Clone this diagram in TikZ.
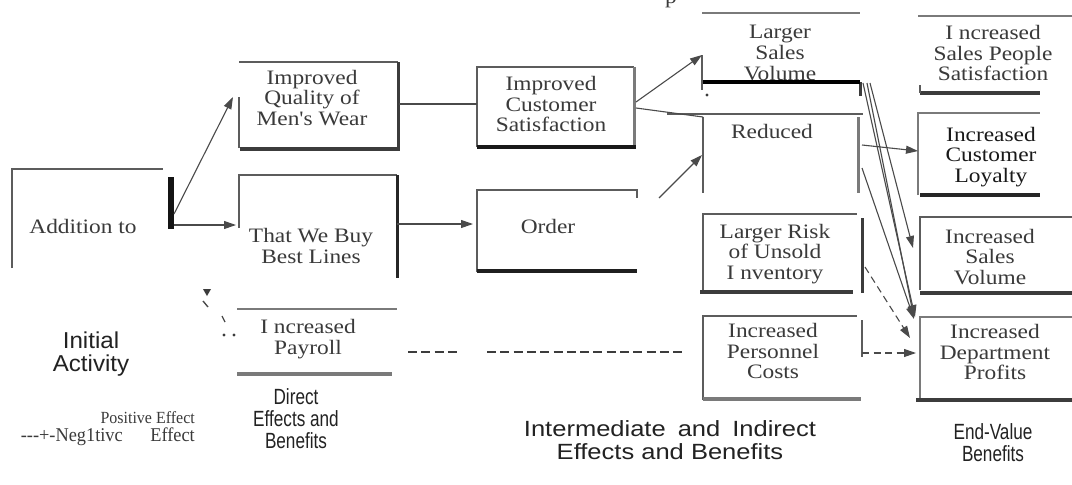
\documentclass[tikz,border=0pt]{standalone}
\usepackage{fontspec}
\setmainfont{Liberation Serif}
\newfontfamily\boxfont[FakeStretch=1.14]{Liberation Serif}
\newfontfamily\capfont[FakeStretch=0.78]{Liberation Sans}
\newfontfamily\midfont[FakeStretch=1.16]{Liberation Sans}
\newfontfamily\initfont[FakeStretch=1.05]{Liberation Sans}
\newfontfamily\legfont[FakeStretch=0.94]{Liberation Serif}
\usetikzlibrary{arrows.meta}

\definecolor{lnc}{HTML}{5C5C5C}
\definecolor{hvc}{HTML}{3C3C3C}
\definecolor{lgc}{HTML}{7A7A7A}
\definecolor{txc}{HTML}{3A3A3A}
\definecolor{cnc}{HTML}{4A4A4A}
\definecolor{cpc}{HTML}{222222}

\begin{document}
\begin{tikzpicture}[x=1pt,y=-1pt,
  frame/.style={inner sep=0pt, outer sep=0pt, anchor=north west, draw=none},
  boxtext/.style={inner sep=0pt, align=center, text=txc,
    font=\boxfont\fontsize{20.5}{20.8}\selectfont},
  edgeln/.style={draw=lnc, line width=1.3pt},
  heavyln/.style={draw=hvc, line width=4pt},
  sideln/.style={draw=hvc, line width=3pt},
  barln/.style={draw=black!92, line width=6pt},
  conn/.style={draw=cnc, line width=1.1pt},
  posarrow/.style={conn, -{Triangle[length=12pt,width=8pt]}},
  negarrow/.style={conn, dash pattern=on 7pt off 4.5pt, -{Triangle[length=12pt,width=8pt]}},
  negline/.style={draw=hvc, line width=2.2pt, dash pattern=on 9pt off 4.3pt},
  capnode/.style={inner sep=0pt, align=center, text=cpc,
    font=\capfont\fontsize{22}{22}\selectfont},
  legnode/.style={inner sep=0pt, text=txc, font=\legfont\fontsize{17}{17}\selectfont}
]
\useasboundingbox (0,0) rectangle (1072,485);
\fill[white] (0,0) rectangle (1072,485);

% ---------- frames of the boxes ----------
\node[frame, minimum width=162pt, minimum height=99pt]  (A) at (12,169)  {};
\node[frame, minimum width=160pt, minimum height=87pt]  (B) at (239,62)  {};
\node[frame, minimum width=158pt, minimum height=80pt]  (C) at (477,67)  {};
\node[frame, minimum width=158pt, minimum height=103pt] (D) at (239,175) {};
\node[frame, minimum width=160pt, minimum height=81pt]  (E) at (477,190) {};
\node[frame, minimum width=158pt, minimum height=69pt]  (F) at (702,13)  {};
\node[frame, minimum width=155pt, minimum height=79pt]  (G) at (703,114) {};
\node[frame, minimum width=159pt, minimum height=78pt]  (H) at (703,214) {};
\node[frame, minimum width=159pt, minimum height=84pt]  (I) at (703,316) {};
\node[frame, minimum width=152pt, minimum height=77pt]  (J) at (920,16)  {};
\node[frame, minimum width=122pt, minimum height=82pt]  (K) at (918,113) {};
\node[frame, minimum width=152pt, minimum height=76pt]  (L) at (920,217) {};
\node[frame, minimum width=152pt, minimum height=83pt]  (M) at (920,317) {};
\node[frame, minimum width=160pt, minimum height=65pt]  (N) at (237,309) {};

% Addition to
\draw[edgeln] (12,268) -- (12,169) -- (163,169);
\draw[barln] (171,177) -- (171,229);
% Improved Quality of Men's Wear
\draw[edgeln] (239,148) -- (239,97);
\draw[edgeln] (239,62) -- (398,62);
\draw[sideln] (398,62) -- (398,150);
\draw[heavyln] (240,149) -- (400,149);
% Improved Customer Satisfaction
\draw[edgeln] (477,147) -- (477,67) -- (634,67);
\draw[sideln, draw=lgc] (634,67) -- (634,147);
\draw[heavyln, draw=black!90] (477,147) -- (636,147);
% That We Buy Best Lines
\draw[edgeln] (239,228) -- (239,175) -- (397,175);
\draw[sideln, draw=black!85] (397,175) -- (397,278);
% Order
\draw[edgeln] (477,272) -- (477,190) -- (637,190) -- (637,198);
\draw[heavyln, draw=black!88] (477,271) -- (637,271);
% Larger Sales Volume
\draw[edgeln, draw=lgc, line width=2pt] (702,13) -- (860,13);
\draw[edgeln] (702,55) -- (702,90);
\draw[sideln] (860,82) -- (860,96);
\fill[hvc] (707,95) circle (1.6);
% Reduced
\draw[edgeln] (667,114) -- (863,114);
\draw[edgeln] (703,117) -- (703,193);
\draw[sideln, draw=lgc] (858,117) -- (858,193);
% Larger Risk of Unsold Inventory
\draw[edgeln] (703,292) -- (703,214) -- (857,214);
\draw[heavyln] (700,292) -- (853,292);
\draw[sideln] (862,218) -- (862,293);
% Increased Personnel Costs
\draw[edgeln] (703,400) -- (703,316) -- (857,316);
\draw[heavyln, draw=lgc] (703,399) -- (861,399);
\draw[edgeln, line width=2pt] (862,320) -- (862,357);
% Increased Sales People Satisfaction
\draw[edgeln, draw=lgc] (918,16) -- (1072,16);
\draw[heavyln] (920,93) -- (1040,93);
\draw[edgeln] (920,85) -- (920,93);
% Increased Customer Loyalty
\draw[edgeln, draw=lgc] (918,195) -- (918,113) -- (1040,113);
\draw[heavyln, draw=black!85] (920,195) -- (1040,195);
% Increased Sales Volume
\draw[edgeln] (920,290) -- (920,217) -- (1072,217);
\draw[heavyln] (920,293) -- (1072,293);
% Increased Department Profits
\draw[edgeln, draw=lgc] (920,400) -- (920,317) -- (1072,317);
\draw[heavyln] (916,400) -- (1072,400);
% Increased Payroll
\draw[edgeln, draw=lgc] (237,309) -- (397,309);
\draw[heavyln, draw=lgc, line width=3.5pt] (237,374) -- (392,374);

% ---------- box texts ----------
\node[boxtext] (tA) at (83,226.5) {Addition to};
\node[boxtext] (tB) at (312,98) {Improved\\Quality of\\Men's Wear};
\node[boxtext] (tC) at (551,104) {Improved\\Customer\\Satisfaction};
\node[boxtext] (tD) at (311,246) {That We Buy\\Best Lines};
\node[boxtext] (tE) at (548,226.5) {Order};
\node[boxtext] (tF) at (780,53) {Larger\\Sales\\Volume};
\node[boxtext] (tG) at (772,131.5) {Reduced};
\node[boxtext] (tH) at (775,254) {Larger Risk\\of Unsold\\I nventory};
\node[boxtext] (tI) at (773,351) {Increased\\Personnel\\Costs};
\node[boxtext] (tJ) at (993,53) {I ncreased\\Sales People\\Satisfaction};
\node[boxtext, text=black!90] (tK) at (991,157) {Increased\\Customer\\Loyalty};
\node[boxtext] (tL) at (990,257) {Increased\\Sales\\Volume};
\node[boxtext] (tM) at (995,352) {Increased\\Department\\Profits};
\node[boxtext] (tN) at (308,339) {I ncreased\\Payroll};
\node[boxtext, anchor=base west] (tTop) at (665,3.5) {p};

% the heavy rule of "Larger Sales Volume" runs over the last text line
\draw[heavyln, draw=black] (703,82) -- (860,82);

% ---------- connectors ----------
\draw[posarrow] ([yshift=4.5pt]A.east) -- ([xshift=-6pt,yshift=8.5pt]B.west);
\draw[posarrow] ([yshift=-6.5pt]A.east) -- ([xshift=-3pt,yshift=1.5pt]D.west);
\draw[conn, line width=1.6pt] ([yshift=1.5pt]B.east) -- ([yshift=3pt]C.west);
\draw[posarrow] ([yshift=2.5pt]D.east) -- ([xshift=-4pt,yshift=6.5pt]E.west);
\draw[posarrow] ([xshift=1pt,yshift=5pt]C.east) -- ([yshift=-7.5pt]F.west);
\draw[conn] ([xshift=1pt,yshift=-1pt]C.east) -- ([yshift=-3pt]G.north west);
\coordinate (eOut) at (659,198);
\draw[posarrow] (eOut) -- ([xshift=-1pt,yshift=-1.5pt]G.west);
\draw[posarrow] ([xshift=4pt,yshift=8.5pt]G.east) -- ([yshift=3pt]K.west);
\draw[posarrow] ([xshift=10pt,yshift=-1pt]F.south east) -- ([xshift=-7pt,yshift=7pt]L.west);
\draw[posarrow] ([xshift=3pt,yshift=-1pt]F.south east) -- ([xshift=-5pt]M.north west);
\draw[posarrow] ([xshift=7pt,yshift=-1pt]F.south east) -- ([xshift=-6pt,yshift=-1pt]M.north west);
\draw[posarrow] ([xshift=4pt,yshift=-14.5pt]G.east) -- ([xshift=-6pt,yshift=-2pt]M.north west);
\draw[negarrow] ([xshift=3pt,yshift=-14pt]H.east) -- ([xshift=-10pt,yshift=20.5pt]M.west);
\draw[negarrow] ([yshift=5pt]I.east) -- ([xshift=-4pt,yshift=5.5pt]M.west);

% broken negative line from the payroll box
\coordinate (nGapA) at (460,352);
\coordinate (nGapB) at (487,352);
\coordinate (nEnd)  at (682,352);
\draw[negline] ([xshift=11pt,yshift=-10.5pt]N.east) -- (nGapA);
\draw[negline] (nGapB) -- (nEnd);

% small dashed fragments between the two left boxes
\fill[hvc] (203,289) -- (211,289) -- (207,296) -- cycle;
\draw[conn, line width=1.4pt] (203,301) -- (208,307);
\draw[conn, line width=1.2pt] (222,316) -- (225,322);
\fill[hvc] (224,335) circle (1.6) (234,335) circle (1.6);

% ---------- column captions ----------
\node[capnode, font=\initfont\fontsize{23}{23}\selectfont] (cInit) at (91,354) {Initial\\Activity};
\node[capnode] (cDirect) at (296,419) {Direct\\Effects and\\Benefits};
\node[capnode, font=\midfont\fontsize{22}{23}\selectfont] (cMid) at (670,440)
  {Intermediate\hspace{12pt}and\hspace{12pt}Indirect\\Effects and Benefits};
\node[capnode] (cEnd) at (993,443) {End-Value\\Benefits};

% ---------- legend ----------
\node[legnode, anchor=east] (lPos) at (195,418) {Positive Effect};
\node[legnode, anchor=east, font=\legfont\fontsize{19.5}{19.5}\selectfont] (lNeg) at (195,437)
  {\makebox[174pt][s]{{-}{-}{-}+{-}Neg1tivc\hspace{0pt plus 1fill}Effect}};
\end{tikzpicture}
\end{document}
